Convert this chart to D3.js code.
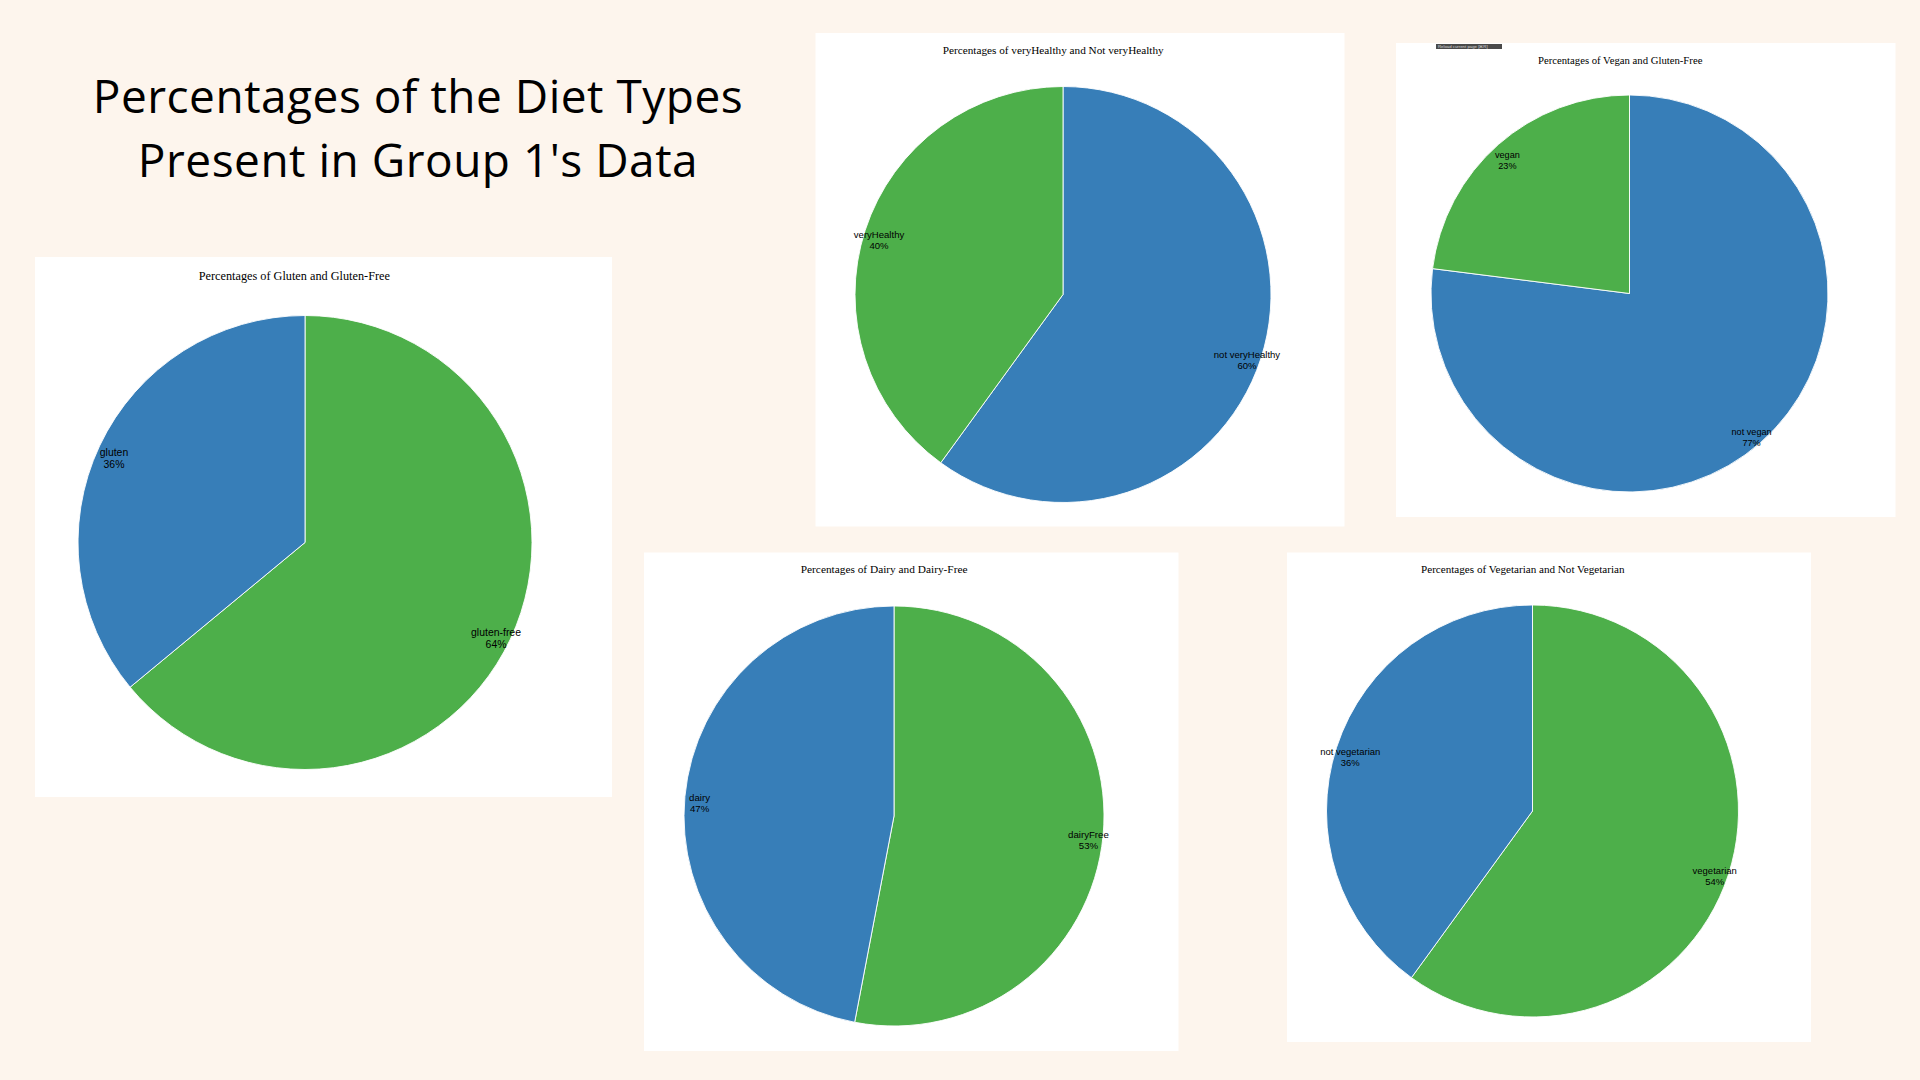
<!DOCTYPE html>
<html>
<head>
<meta charset="utf-8">
<script src="https://cdn.jsdelivr.net/npm/d3@7"></script>
<style>
  html, body { margin: 0; padding: 0; background: #fdf5ed; }
  svg { display: block; }
</style>
</head>
<body>
<svg id="chart" width="1920" height="1080"></svg>
<script>
// ---------------- data ----------------
const titleLines = ["Percentages of the Diet Types", "Present in Group 1's Data"];

const chartTitles = [
  "Percentages of Gluten and Gluten-Free",
  "Percentages of veryHealthy and Not veryHealthy",
  "Percentages of Vegan and Gluten-Free",
  "Percentages of Dairy and Dairy-Free",
  "Percentages of Vegetarian and Not Vegetarian"
];

const glutenCategories = ["gluten-free", "gluten"];
const glutenValues = [64, 36];

const healthyCategories = ["not veryHealthy", "veryHealthy"];
const healthyValues = [60, 40];

const veganCategories = ["not vegan", "vegan"];
const veganValues = [77, 23];

const dairyCategories = ["dairyFree", "dairy"];
const dairyValues = [53, 47];

const vegetarianCategories = ["vegetarian", "not vegetarian"];
const vegetarianValues = [54, 36];

// ---------------- styles / layout ----------------
const BLUE = "#377eb8", GREEN = "#4daf4a";
const glutenColors = [GREEN, BLUE];
const healthyColors = [BLUE, GREEN];
const veganColors = [BLUE, GREEN];
const dairyColors = [GREEN, BLUE];
const vegetarianColors = [GREEN, BLUE];

const charts = [
  { cats: glutenCategories, vals: glutenValues, colors: glutenColors, title: chartTitles[0],
    panel: [35, 257, 612, 797], cx: 305, cy: 542.5, r: 227 },
  { cats: healthyCategories, vals: healthyValues, colors: healthyColors, title: chartTitles[1],
    panel: [815.5, 33, 1344.5, 526.5], cx: 1063, cy: 294.5, r: 208 },
  { cats: veganCategories, vals: veganValues, colors: veganColors, title: chartTitles[2],
    panel: [1396, 43, 1895.5, 517], cx: 1629.5, cy: 293.5, r: 198.5 },
  { cats: dairyCategories, vals: dairyValues, colors: dairyColors, title: chartTitles[3],
    panel: [644, 552.5, 1178.5, 1051], cx: 894, cy: 816, r: 210 },
  { cats: vegetarianCategories, vals: vegetarianValues, colors: vegetarianColors, title: chartTitles[4],
    panel: [1287, 552.5, 1811, 1042], cx: 1532.5, cy: 811, r: 206 }
];

const svg = d3.select("#chart");

svg.append("rect").attr("width", 1920).attr("height", 1080).attr("fill", "#fdf5ed");

// main title
const mainTitle = svg.append("text")
  .attr("x", 418)
  .attr("text-anchor", "middle")
  .attr("font-family", "'Open Sans', Lato, sans-serif")
  .attr("font-size", 46)
  .attr("letter-spacing", 0.5)
  .attr("fill", "#000");
mainTitle.selectAll("tspan").data(titleLines).join("tspan")
  .attr("x", 418)
  .attr("y", (d, i) => 113 + i * 64)
  .text(d => d);

charts.forEach(c => {
  const [x0, y0, x1, y1] = c.panel;
  const g = svg.append("g");
  g.append("rect")
    .attr("x", x0).attr("y", y0)
    .attr("width", x1 - x0).attr("height", y1 - y0)
    .attr("fill", "#ffffff");

  const data = c.cats.map((name, i) => ({ name, value: c.vals[i] }));
  const color = d3.scaleOrdinal().domain(c.cats).range(c.colors);
  const pie = d3.pie().sort(null).value(d => d.value);
  const arcs = pie(data);
  const arc = d3.arc().innerRadius(0).outerRadius(c.r);
  const labelArc = d3.arc().innerRadius(c.r * 0.93).outerRadius(c.r * 0.93);

  const pg = g.append("g").attr("transform", `translate(${c.cx},${c.cy})`);
  pg.selectAll("path").data(arcs).join("path")
    .attr("d", arc)
    .attr("fill", d => color(d.data.name))
    .attr("stroke", "#ffffff")
    .attr("stroke-width", 0.9);

  const fs = c.r * 0.046;
  const t = pg.selectAll("text.lbl").data(arcs).join("text")
    .attr("class", "lbl")
    .attr("transform", d => `translate(${labelArc.centroid(d)})`)
    .attr("text-anchor", "middle")
    .attr("font-family", "'Liberation Sans', Arial, sans-serif")
    .attr("font-size", fs)
    .attr("fill", "#000");
  t.append("tspan").attr("x", 0).attr("dy", "0.35em").text(d => d.data.name);
  t.append("tspan").attr("x", 0).attr("dy", "1.17em").text(d => d.data.value + "%");

  g.append("text")
    .attr("x", c.cx - 0.047 * c.r)
    .attr("y", c.cy - 1.175 * c.r)
    .attr("dy", "0.35em")
    .attr("text-anchor", "middle")
    .attr("font-family", "'Liberation Serif', 'Times New Roman', serif")
    .attr("font-size", c.r * 0.054)
    .attr("fill", "#000")
    .text(c.title);
});

// browser tooltip artefact captured in the vegan screenshot
svg.append("rect").attr("x", 1436).attr("y", 44).attr("width", 66).attr("height", 5).attr("fill", "#4a4a4a");
svg.append("text").attr("x", 1438).attr("y", 48.2)
  .attr("font-family", "'Liberation Sans', Arial, sans-serif")
  .attr("font-size", 4.3).attr("fill", "#d8d8d8")
  .text("Reload current page [⌘R]");
</script>
</body>
</html>
